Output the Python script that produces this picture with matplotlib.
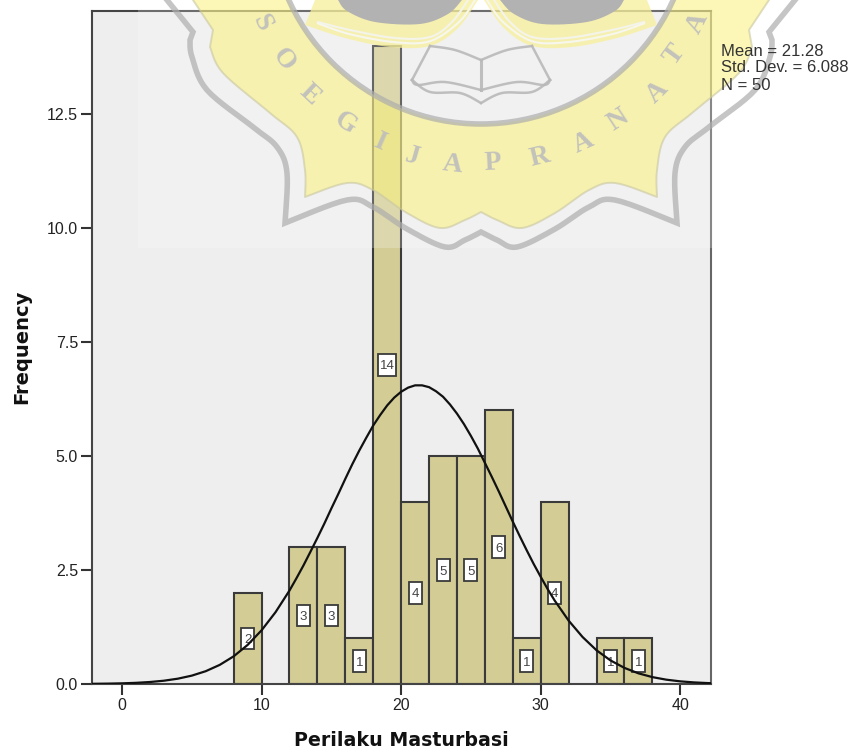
import numpy as np
import matplotlib
matplotlib.use("Agg")
import matplotlib.pyplot as plt
from matplotlib.patches import Rectangle, Polygon, Circle, PathPatch
from matplotlib.path import Path

# ---- data ----
bin_left = [8, 12, 14, 16, 18, 20, 22, 24, 26, 28, 30, 34, 36]
counts = [2, 3, 3, 1, 14, 4, 5, 5, 6, 1, 4, 1, 1]
bin_width = 2
curve_x = [-3, -2, -1, 0, 1, 2, 3, 4, 5, 6, 7, 8, 9, 10, 11, 12, 12.5, 13, 13.5, 14, 14.5, 15, 15.5,
           16, 16.5, 17, 17.5, 18, 18.5, 19, 19.5, 20, 20.5, 21, 21.5, 22, 22.5, 23, 23.5, 24, 24.5,
           25, 25.5, 26, 26.5, 27, 27.5, 28, 28.5, 29, 29.5, 30, 30.5, 31, 32, 33, 34, 35, 36, 37,
           38, 39, 40, 41, 42, 43]
curve_y = [.002, .0044, .0081, .0145, .0255, .0437, .0721, .1166, .1835, .281, .419, .607, .857,
           1.178, 1.575, 2.05, 2.32, 2.60, 2.90, 3.205, 3.52, 3.85, 4.17,
           4.50, 4.82, 5.12, 5.40, 5.67, 5.90, 6.11, 6.28, 6.41, 6.50, 6.55, 6.55, 6.51, 6.42, 6.30, 6.13,
           5.93, 5.70, 5.44, 5.16, 4.85, 4.54, 4.22, 3.89, 3.56, 3.24, 2.93, 2.63, 2.35, 2.08, 1.83,
           1.39, 1.03, .739, .517, .353, .234, .151, .0948, .058, .0345, .02, .012]
x_ticks = [0, 10, 20, 30, 40]
y_ticks = [0.0, 2.5, 5.0, 7.5, 10.0, 12.5]
stats = ["Mean = 21.28", "Std. Dev. = 6.088", "N = 50"]
x_label = "Perilaku Masturbasi"
y_label = "Frequency"
seal_letters = list("SOEGIJAPRANATA")

W, H = 852, 756
plt.rcParams['font.family'] = ['Liberation Sans', 'DejaVu Sans']
fig = plt.figure(figsize=(W/100, H/100), dpi=100, facecolor='white')
L, R, T, B = 92, 711, 11, 684
ax = fig.add_axes([L/W, 1-B/H, (R-L)/W, (B-T)/H])
ax.set_facecolor('#eeeeee')
ax.set_xlim(-2.15, 42.2)
ax.set_ylim(0, 14.76)

ax.bar(bin_left, counts, width=bin_width, align='edge', color='#d3cd95', edgecolor='#3a3a3a',
       linewidth=1.5, zorder=2)
ax.plot(curve_x, curve_y, color='#111111', lw=1.6, zorder=5, solid_joinstyle='round')
for l, c in zip(bin_left, counts):
    mid = l + bin_width/2
    w = 1.3 if c >= 10 else 0.93
    h = 0.47
    ax.add_patch(Rectangle((mid-w/2, c/2-h/2), w, h, fc='white', ec='#3a3a3a', lw=1.3, zorder=3))
    ax.text(mid, c/2, str(c), ha='center', va='center_baseline', fontsize=9.5, color='#444444', zorder=4)

ax.set_xticks(x_ticks)
ax.set_yticks(y_ticks)
ax.set_yticklabels([f"{v:.1f}" for v in y_ticks])
ax.tick_params(axis='both', length=8, width=1.5, color='#333333', labelsize=11.5,
               labelcolor='#222222', pad=2)
for s in ax.spines.values():
    s.set_color('#444444')
    s.set_linewidth(1.5)
ax.spines['right'].set_color('#666666')

fig.text(401/W, 1-741/H, x_label, ha='center', va='center', fontsize=13.7, fontweight='bold',
         family='DejaVu Sans', color='#111111')
fig.text(22/W, 1-347/H, y_label, ha='center', va='center', rotation=90, fontsize=14, fontweight='bold',
         family='DejaVu Sans', color='#111111')

# ---- watermark seal, drawn on top in pixel coordinates ----
ov = fig.add_axes([0, 0, 1, 1], zorder=10)
ov.set_xlim(0, W)
ov.set_ylim(H, 0)
ov.axis('off')
ov.patch.set_alpha(0)
CX = 481

ov.add_patch(Rectangle((138, 0), W-138, 248, fc='white', ec='none', alpha=0.22))


def smooth(pts):
    """Catmull-Rom polyline through the outline points of the seal."""
    p = np.array(pts, float)
    q = np.vstack([p[0], p, p[-1]])
    out = []
    for i in range(1, len(q)-2):
        for t in np.linspace(0, 1, 8, endpoint=False):
            a, b, c, d = q[i-1], q[i], q[i+1], q[i+2]
            out.append(0.5*((2*b) + (c-a)*t + (2*a-5*b+4*c-d)*t**2 + (3*b-a-3*c+d)*t**3))
    out.append(p[-1])
    return np.array(out)


def mirrored(parts):
    """Left half as sections split at sharp corners; returns the full path."""
    left = np.vstack([smooth(s) for s in parts])
    right = left[::-1].copy()
    right[:, 0] = 2*CX - right[:, 0]
    return np.vstack([left, right[1:]])


def area(p):
    x, y = p[:, 0], p[:, 1]
    return 0.5*np.sum(x*np.roll(y, -1) - np.roll(x, -1)*y)


outer = mirrored([
    [(167, 0), (193, 32)],
    [(190, 40), (192, 57), (207, 90), (253, 127), (277, 147), (287, 173), (285, 223)],
    [(285, 223), (347, 200), (373, 207), (407, 229), (445, 247), (465, 240), (481, 232)],
])
band = mirrored([
    [(193, 0), (213, 30)],
    [(210, 47), (223, 73), (270, 113), (297, 137), (305, 170), (305, 197)],
    [(305, 197), (347, 183), (373, 190), (407, 213), (440, 228), (465, 220), (481, 212)],
])
GRAY = '#adadad'
r, cy = 211, -87
th = np.linspace(0, 2*np.pi, 361)
ring = np.column_stack([CX + r*np.cos(th), cy + r*np.sin(th)])
if area(band)*area(ring) > 0:
    ring = ring[::-1]
verts = np.vstack([band, band[0], ring])
codes = [Path.MOVETO] + [Path.LINETO]*len(band) + [Path.MOVETO] + [Path.LINETO]*(len(ring)-1)
ov.add_patch(PathPatch(Path(verts, codes), fc='#fbf27a', ec='none', alpha=0.55))
ov.plot(band[:, 0], band[:, 1], color='#c9c7a0', lw=1.4, alpha=0.6)
ov.plot(outer[:, 0], outer[:, 1], color=GRAY, lw=4, alpha=0.7, solid_joinstyle='miter')
ov.add_patch(Circle((CX, cy), r, fc='none', ec=GRAY, lw=4, alpha=0.7, zorder=1.6))

# wings with stripes at the top of the disc
for sgn in (-1, 1):
    mx = lambda pts: [(CX + sgn*(CX-x), y) for x, y in pts]
    wing = smooth([(305, 25), (345, 38), (390, 47), (430, 46), (458, 28), (478, 0)])
    wing = np.vstack([wing, [(478, 0), (315, 0), (305, 25)]])
    ov.add_patch(Polygon(mx(wing), closed=True, fc='#f8f09a', ec='none', alpha=0.75, zorder=2))
    for d, col in [(0, '#f4f4ea'), (7, '#f7f7ee')]:
        st = smooth([(318, 22+d*0.2), (350, 30+d*0.6), (395, 38+d*0.6), (430, 37+d*0.6), (452+d, 22), (468+d, 0)])
        ov.plot(*zip(*mx(st)), color=col, lw=1.5, zorder=2.1)
    lobe = smooth([(338, 0), (347, 11), (375, 22), (420, 24), (448, 14), (462, 0)])
    ov.add_patch(Polygon(mx(lobe), closed=True, fc='#b2b2b2', ec='none', zorder=2.2))
    # book
    for seg in ([(481, 60), (455, 50), (430, 46)],
                [(430, 46), (412, 80)],
                [(412, 80), (418, 85), (445, 82), (481, 90)],
                [(412, 80), (430, 92), (460, 93), (481, 103)]):
        pts = smooth(seg)
        ov.plot(*zip(*mx(pts)), color='#b9b9b9', lw=1.8, alpha=0.9, zorder=2.3)
ov.plot([481, 481], [60, 90], color='#b9b9b9', lw=2.2, alpha=0.9, zorder=2.3)

letter_xy = [(262, 23), (283, 60), (310, 95), (345, 123), (380, 142), (412, 157), (452, 165),
             (493, 163), (540, 157), (583, 143), (618, 120), (657, 92), (675, 55), (698, 23)]
for ch, (lx, ly) in zip(seal_letters, letter_xy):
    rot = np.degrees(np.arctan2(lx-CX, ly-cy))
    ov.text(lx, ly, ch, ha='center', va='center', rotation=rot, rotation_mode='anchor',
            fontsize=20, family='Liberation Serif', fontweight='bold', color='#bdbdbd', alpha=0.9, zorder=3)

# statistics text sits over the seal
for t, yy in zip(stats, [52, 68, 85]):
    ov.text(721, yy, t, ha='left', va='center', fontsize=12, color='#333333', zorder=6)

fig.savefig('out.png', dpi=100, facecolor='white')
